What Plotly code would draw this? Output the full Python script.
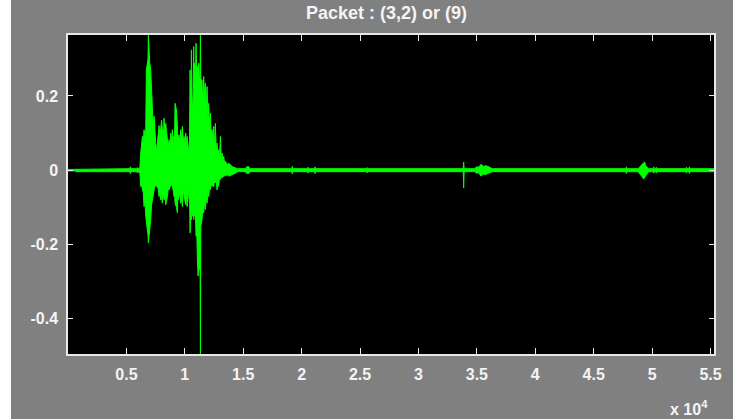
import plotly.graph_objects as go

# ---- data (envelope of the waveform; x in samples) ----
env_x = [0, 600, 700, 5280, 5340, 5400, 5880, 5940, 6000, 6150,
         6225, 6370, 6510, 6655, 6710, 6800, 6850, 6880, 6910, 6940, 6995, 7080,
         7225, 7370, 7510, 7655, 7795, 7940, 8080, 8225, 8365, 8510, 8650,
         8795, 8935, 9080, 9165, 9220, 9280, 9365, 9450, 9505, 9650, 9795,
         9935, 10075, 10195, 10335, 10450, 10565, 10675, 10760, 10845, 10965,
         11075, 11135, 11190, 11250, 11300, 11335, 11370, 11475, 11615, 11760,
         11905, 12045, 12190, 12335, 12475, 12615, 12760, 12900, 13045, 13190,
         13330, 13475, 13760, 14045, 14330, 14500,
         15150, 15300, 15450, 15600, 19150, 19200, 19250, 20500, 20550, 20600,
         21100, 21150, 21200, 25550, 25600, 25650, 33830, 33870, 33910,
         34800, 35000, 35250, 35450, 35700, 36000, 36300,
         47750, 47800, 47850, 48800, 48950, 49150, 49280, 49450, 49700,
         50100, 50140, 50200, 50330, 50370, 50420,
         52900, 52940, 52990, 53150, 53190, 53240, 55300]
env_hi = [0.002, 0.002, 0.004, 0.004, 0.009, 0.004, 0.004, 0.007, 0.004, 0.006,
          0.046, 0.091, 0.109, 0.109, 0.270, 0.290, 0.300, 0.364, 0.330, 0.320, 0.290, 0.270,
          0.180, 0.145, 0.073, 0.073, 0.120, 0.131, 0.109, 0.140, 0.126, 0.082, 0.082,
          0.100, 0.109, 0.091, 0.180, 0.170, 0.163, 0.120, 0.091, 0.095, 0.109, 0.118,
          0.091, 0.100, 0.091, 0.046, 0.270, 0.324, 0.154, 0.333, 0.288, 0.342,
          0.279, 0.270, 0.288, 0.250, 0.250, 0.364, 0.245, 0.243, 0.252, 0.234,
          0.225, 0.180, 0.154, 0.109, 0.118, 0.126, 0.073, 0.055, 0.091, 0.046,
          0.037, 0.024, 0.019, 0.010, 0.006, 0.004,
          0.004, 0.009, 0.010, 0.004, 0.004, 0.010, 0.004, 0.004, 0.008, 0.004,
          0.004, 0.009, 0.004, 0.004, 0.007, 0.004, 0.004, 0.022, 0.004,
          0.004, 0.009, 0.012, 0.014, 0.012, 0.010, 0.004,
          0.004, 0.009, 0.004, 0.004, 0.010, 0.017, 0.020, 0.012, 0.004,
          0.004, 0.009, 0.004, 0.004, 0.008, 0.004,
          0.004, 0.008, 0.004, 0.004, 0.009, 0.004, 0.004]
env_lo = [-0.002, -0.002, -0.004, -0.004, -0.009, -0.004, -0.004, -0.007, -0.004, -0.008,
          -0.044, -0.053, -0.098, -0.124, -0.140, -0.160, -0.175, -0.196, -0.185, -0.175, -0.160, -0.133,
          -0.080, -0.053, -0.044, -0.048, -0.071, -0.080, -0.089, -0.080, -0.093, -0.071, -0.053,
          -0.044, -0.044, -0.071, -0.089, -0.095, -0.100, -0.115, -0.080, -0.071, -0.089, -0.098,
          -0.071, -0.093, -0.098, -0.053, -0.169, -0.133, -0.124, -0.133, -0.124, -0.178,
          -0.240, -0.285, -0.260, -0.267, -0.200, -0.495, -0.150, -0.133, -0.115, -0.106,
          -0.089, -0.071, -0.053, -0.044, -0.044, -0.034, -0.053, -0.044, -0.025, -0.021,
          -0.018, -0.016, -0.016, -0.012, -0.008, -0.004,
          -0.004, -0.008, -0.009, -0.004, -0.004, -0.010, -0.004, -0.004, -0.008, -0.004,
          -0.004, -0.009, -0.004, -0.004, -0.007, -0.004, -0.004, -0.048, -0.004,
          -0.004, -0.008, -0.011, -0.014, -0.012, -0.008, -0.004,
          -0.004, -0.009, -0.004, -0.004, -0.010, -0.018, -0.024, -0.015, -0.004,
          -0.004, -0.008, -0.004, -0.004, -0.008, -0.004,
          -0.004, -0.008, -0.004, -0.004, -0.009, -0.004, -0.004]

# finer jagged detail inside the burst (read between the peaks above)
det_x = [6290, 6440, 6580, 7150, 7300, 7440, 7580, 7725, 7870, 8010, 8150, 8295,
         8440, 8580, 8720, 8865, 9010, 9120, 9400, 9580, 9720, 9865, 10005, 10135,
         10270, 10400, 10510, 10620, 10720, 10800, 10905, 11020, 11540, 11690, 11830,
         11975, 12120, 12260, 12400, 12545, 12690, 12830, 12970, 13120, 13260, 13400,
         13620, 13900, 14190, 35120, 35350, 35580, 49050, 49360]
det_hi = [0.060, 0.070, 0.085, 0.200, 0.110, 0.095, 0.050, 0.085, 0.090, 0.135, 0.080, 0.095,
          0.100, 0.060, 0.065, 0.075, 0.070, 0.080, 0.080, 0.075, 0.085, 0.075, 0.070, 0.065,
          0.070, 0.080, 0.160, 0.200, 0.200, 0.230, 0.240, 0.230, 0.170, 0.200, 0.160,
          0.140, 0.110, 0.090, 0.070, 0.060, 0.045, 0.040, 0.030, 0.030, 0.028, 0.020,
          0.015, 0.014, 0.008, 0.008, 0.015, 0.009, 0.012, 0.022]
det_lo = [-0.040, -0.060, -0.080, -0.095, -0.060, -0.040, -0.038, -0.050, -0.060, -0.070, -0.060, -0.065,
          -0.080, -0.050, -0.045, -0.035, -0.055, -0.060, -0.070, -0.060, -0.075, -0.055, -0.080, -0.070,
          -0.080, -0.060, -0.110, -0.100, -0.095, -0.110, -0.120, -0.150, -0.100, -0.085, -0.075,
          -0.060, -0.045, -0.035, -0.035, -0.028, -0.030, -0.035, -0.020, -0.018, -0.016, -0.012,
          -0.012, -0.012, -0.010, -0.007, -0.016, -0.010, -0.013, -0.020]

x_tickvals = [5000, 10000, 15000, 20000, 25000, 30000, 35000, 40000, 45000, 50000, 55000]
x_ticktext = ["0.5", "1", "1.5", "2", "2.5", "3", "3.5", "4", "4.5", "5", "5.5"]
y_tickvals = [-0.4, -0.2, 0, 0.2]
y_ticktext = ["-0.4", "-0.2", "0", "0.2"]
title_text = "Packet : (3,2) or (9)"
x_range = [0, 55300]
y_range = [-0.495, 0.364]

# ---- figure ----
pts = sorted(zip(env_x + det_x, env_hi + det_hi, env_lo + det_lo))
xs = [p[0] for p in pts]
his = [p[1] for p in pts]
los = [p[2] for p in pts]
poly_x = xs + xs[::-1]
poly_y = his + los[::-1]

GREEN = "#00ff00"
GRAY = "#808080"
TXT = "#f4f4f4"
FONT = "Liberation Sans"

fig = go.Figure()
fig.add_trace(go.Scatter(x=poly_x, y=poly_y, mode="lines", fill="toself",
                         fillcolor=GREEN, line=dict(color=GREEN, width=1),
                         hoverinfo="skip", showlegend=False))

W, H = 742, 419
L, R, T, B = 68, 28, 35, 65
pw, ph = W - L - R, H - T - B

axis_common = dict(showline=True, linecolor="#e8e8e8", linewidth=1.5, mirror="ticks",
                   ticks="inside", tickcolor="#e8e8e8", tickwidth=1,
                   showgrid=False, zeroline=False,
                   tickfont=dict(family=FONT, size=16, color=TXT, weight="bold"))

fig.update_xaxes(range=x_range, tickmode="array", tickvals=x_tickvals, ticktext=x_ticktext,
                 ticklen=6, ticklabelstandoff=5, **axis_common)
fig.update_yaxes(range=y_range, tickmode="array", tickvals=y_tickvals, ticktext=y_ticktext,
                 ticklen=5, ticklabelstandoff=5, **axis_common)

fig.update_layout(
    width=W, height=H,
    margin=dict(l=L, r=R, t=T, b=B),
    paper_bgcolor=GRAY, plot_bgcolor="#000000",
    showlegend=False,
    annotations=[
        dict(text=f"<b>{title_text}</b>", xref="paper", yref="paper",
             x=(386 - L) / pw, y=1 + (T - 13) / ph, xanchor="center", yanchor="middle",
             showarrow=False, font=dict(family=FONT, size=18, color=TXT)),
        dict(text="<b>x 10<sup>4</sup></b>", xref="paper", yref="paper",
             x=(668 - L) / pw, y=-(408 - (H - B)) / ph, xanchor="left", yanchor="middle",
             showarrow=False, font=dict(family=FONT, size=16, color=TXT)),
    ],
    shapes=[
        dict(type="rect", xref="paper", yref="paper", x0=-L / pw - 0.01, x1=(11 - L) / pw,
             y0=-B / ph - 0.05, y1=1 + T / ph + 0.05, fillcolor="white", line=dict(width=0),
             layer="above"),
        dict(type="rect", xref="paper", yref="paper", x0=(733 - L) / pw, x1=1 + R / pw + 0.01,
             y0=-B / ph - 0.05, y1=1 + T / ph + 0.05, fillcolor="white", line=dict(width=0),
             layer="above"),
    ],
)

fig.write_html("out.html")
